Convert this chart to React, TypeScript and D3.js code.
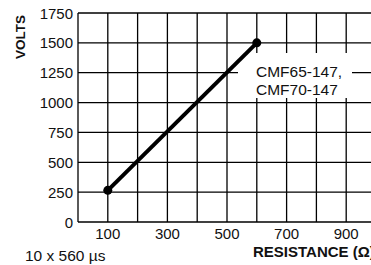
import React from "react";
import * as d3 from "d3";

const xTicks = [100, 300, 500, 700, 900];
const xGrid = [100, 200, 300, 400, 500, 600, 700, 800, 900, 1000];
const yTicks = [0, 250, 500, 750, 1000, 1250, 1500, 1750];
const resistance = [100, 600];
const volts = [265, 1500];
const seriesLabel = ["CMF65-147,", "CMF70-147"];

export default function App() {
  const W = 371, H = 265;
  const x = d3.scaleLinear().domain([0, 1000]).range([78, 376]);
  const y = d3.scaleLinear().domain([0, 1750]).range([222, 13]);
  const pts = resistance.map((r, i) => [x(r), y(volts[i])] as [number, number]);
  const line = d3.line()(pts) || "";
  const font = "'Liberation Sans', Arial, Helvetica, sans-serif";
  return (
    <svg width={W} height={H} style={{ position: "absolute", left: 0, top: 0, background: "#fff" }} fontFamily={font}>
      <rect width={W} height={H} fill="#fff" />
      {yTicks.map((t) => (
        <line key={"h" + t} x1={x(0)} x2={x(1000)} y1={y(t)} y2={y(t)} stroke="#000" strokeWidth={1.3} />
      ))}
      {xGrid.map((t) => (
        <line key={"v" + t} x1={x(t)} x2={x(t)} y1={y(0)} y2={y(1750)} stroke="#000" strokeWidth={1.3} />
      ))}
      <line x1={x(0)} x2={x(0)} y1={y(0)} y2={y(1750)} stroke="#000" strokeWidth={1.3} />
      <rect x={238} y={53} width={114} height={45} fill="#fff" />
      <path d={line} stroke="#000" strokeWidth={4} fill="none" />
      {pts.map((p, i) => (
        <circle key={i} cx={p[0]} cy={p[1]} r={4.5} fill="#000" />
      ))}
      <text fontSize={15.5} fill="#111">
        <tspan x={256} y={76.5}>{seriesLabel[0]}</tspan>
        <tspan x={256} y={95}>{seriesLabel[1]}</tspan>
      </text>
      {yTicks.map((t) => (
        <text key={"yl" + t} x={73} y={y(t) + 5.5} textAnchor="end" fontSize={15} fill="#111">
          {t}
        </text>
      ))}
      {xTicks.map((t) => (
        <text key={"xl" + t} x={x(t)} y={239} textAnchor="middle" fontSize={15} fill="#111">
          {t}
        </text>
      ))}
      <text transform="translate(25,37) rotate(-90)" textAnchor="middle" fontSize={13.5} fontWeight="bold" fill="#111">
        VOLTS
      </text>
      <text x={253} y={257} fontSize={15} fontWeight="bold" fill="#111">
        RESISTANCE (Ω)
      </text>
      <text x={25} y={261} fontSize={15.5} fill="#111">
        10 x 560 µs
      </text>
    </svg>
  );
}
